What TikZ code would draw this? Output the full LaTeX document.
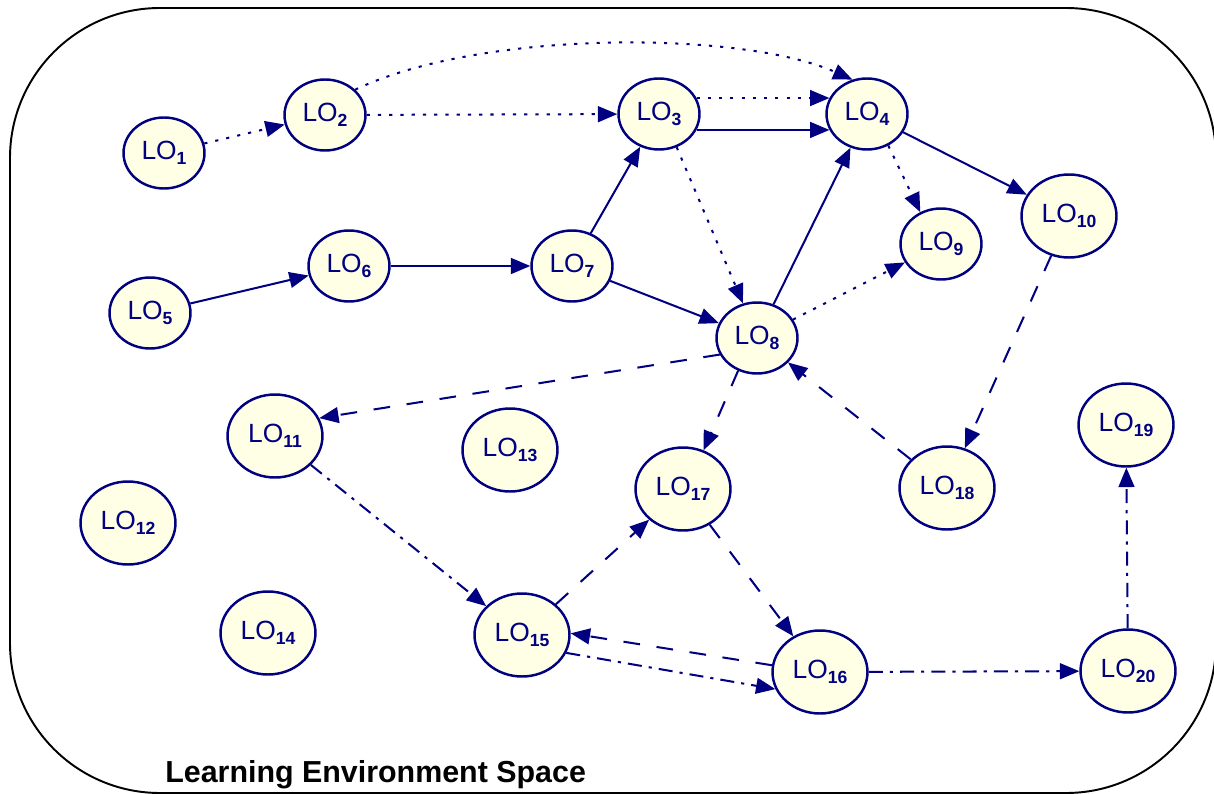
\documentclass[tikz,border=0pt]{standalone}
\usepackage{fontspec}
\setmainfont{Liberation Sans}
\usetikzlibrary{shapes.geometric,arrows.meta}
\definecolor{navy}{RGB}{0,0,128}
\definecolor{ivory}{RGB}{255,255,230}
\newcommand{\LOlab}[1]{LO\raisebox{-0.4ex}{\fontsize{10}{11}\selectfont\bfseries #1}}
\tikzset{
  lo/.style={ellipse, draw=navy, fill=ivory, line width=1.4pt, inner sep=0pt,
    minimum width=1.62cm, minimum height=1.42cm, text=navy,
    font=\fontsize{15}{17}\selectfont},
  lobig/.style={lo, minimum width=1.9cm, minimum height=1.66cm},
  edge/.style={navy, line width=1.15pt, -{Triangle[length=11pt,width=9pt]}},
  dotline/.style={edge, dash pattern=on 1.8pt off 4.6pt},
  dashline/.style={edge, dash pattern=on 9.5pt off 9.5pt},
  dashdotline/.style={edge, dash pattern=on 8pt off 4pt on 1.8pt off 4pt},
  frame/.style={draw=black, line width=1.1pt, rounded corners=3cm},
  title/.style={font=\fontsize{17.3}{20}\selectfont\bfseries, text=black, inner sep=0pt}
}
\begin{document}
\begin{tikzpicture}[x=0.02cm, y=-0.02cm]
\useasboundingbox (0,0) rectangle (1214,794);
\draw[frame] (10,8) rectangle (1216,793);
\node[title, anchor=base west] (title) at (165,782) {Learning Environment Space};

\node[lo] (LO1) at (164,153) {\LOlab{1}};
\node[lo] (LO2) at (325,115) {\LOlab{2}};
\node[lo] (LO3) at (659,114) {\LOlab{3}};
\node[lo] (LO4) at (867,114) {\LOlab{4}};
\node[lo] (LO5) at (150,313) {\LOlab{5}};
\node[lo] (LO6) at (349,266) {\LOlab{6}};
\node[lo] (LO7) at (572,266) {\LOlab{7}};
\node[lo] (LO8) at (757,338) {\LOlab{8}};
\node[lo] (LO9) at (941,244) {\LOlab{9}};
\node[lobig] (LO10) at (1069,216) {\LOlab{10}};
\node[lobig] (LO11) at (275,436) {\LOlab{11}};
\node[lobig] (LO12) at (128,523) {\LOlab{12}};
\node[lobig] (LO13) at (510,450) {\LOlab{13}};
\node[lobig] (LO14) at (268,633) {\LOlab{14}};
\node[lobig] (LO15) at (522,635) {\LOlab{15}};
\node[lobig] (LO16) at (820,672) {\LOlab{16}};
\node[lobig] (LO17) at (683,489) {\LOlab{17}};
\node[lobig] (LO18) at (947,488) {\LOlab{18}};
\node[lobig] (LO19) at (1126,425) {\LOlab{19}};
\node[lobig] (LO20) at (1128,671) {\LOlab{20}};

% dotted
\draw[dotline] (LO1) -- (LO2);
\draw[dotline] (LO2) -- (LO3);
\draw[dotline] (LO2.40) .. controls (480,30) and (740,30) .. (LO4.113);
\draw[dotline] (LO3.23) -- (LO4.157);
\draw[dotline] (LO3.-62) -- (LO8.112);
\draw[dotline] (LO4.-56) -- (LO9.123);
\draw[dotline] (LO8) -- (LO9);
% solid
\draw[edge] (LO3.-23) -- (LO4.-157);
\draw[edge] (LO4) -- (LO10);
\draw[edge] (LO5) -- (LO6);
\draw[edge] (LO6) -- (LO7);
\draw[edge] (LO7) -- (LO3);
\draw[edge] (LO7) -- (LO8);
\draw[edge] (LO8) -- (LO4);
% dashed
\draw[dashline] (LO8.204) -- (LO11.22);
\draw[dashline] (LO8.240) -- (LO17.62);
\draw[dashline] (LO10) -- (LO18);
\draw[dashline] (LO18) -- (LO8);
\draw[dashline] (LO15) -- (LO17);
\draw[dashline] (LO17) -- (LO16);
\draw[dashline] (LO16.172) -- (LO15.2);
% dash-dot
\draw[dashdotline] (LO11) -- (LO15);
\draw[dashdotline] (LO15.-22) -- (LO16.-159);
\draw[dashdotline] (LO16) -- (LO20);
\draw[dashdotline] (LO20) -- (LO19);
\end{tikzpicture}
\end{document}
